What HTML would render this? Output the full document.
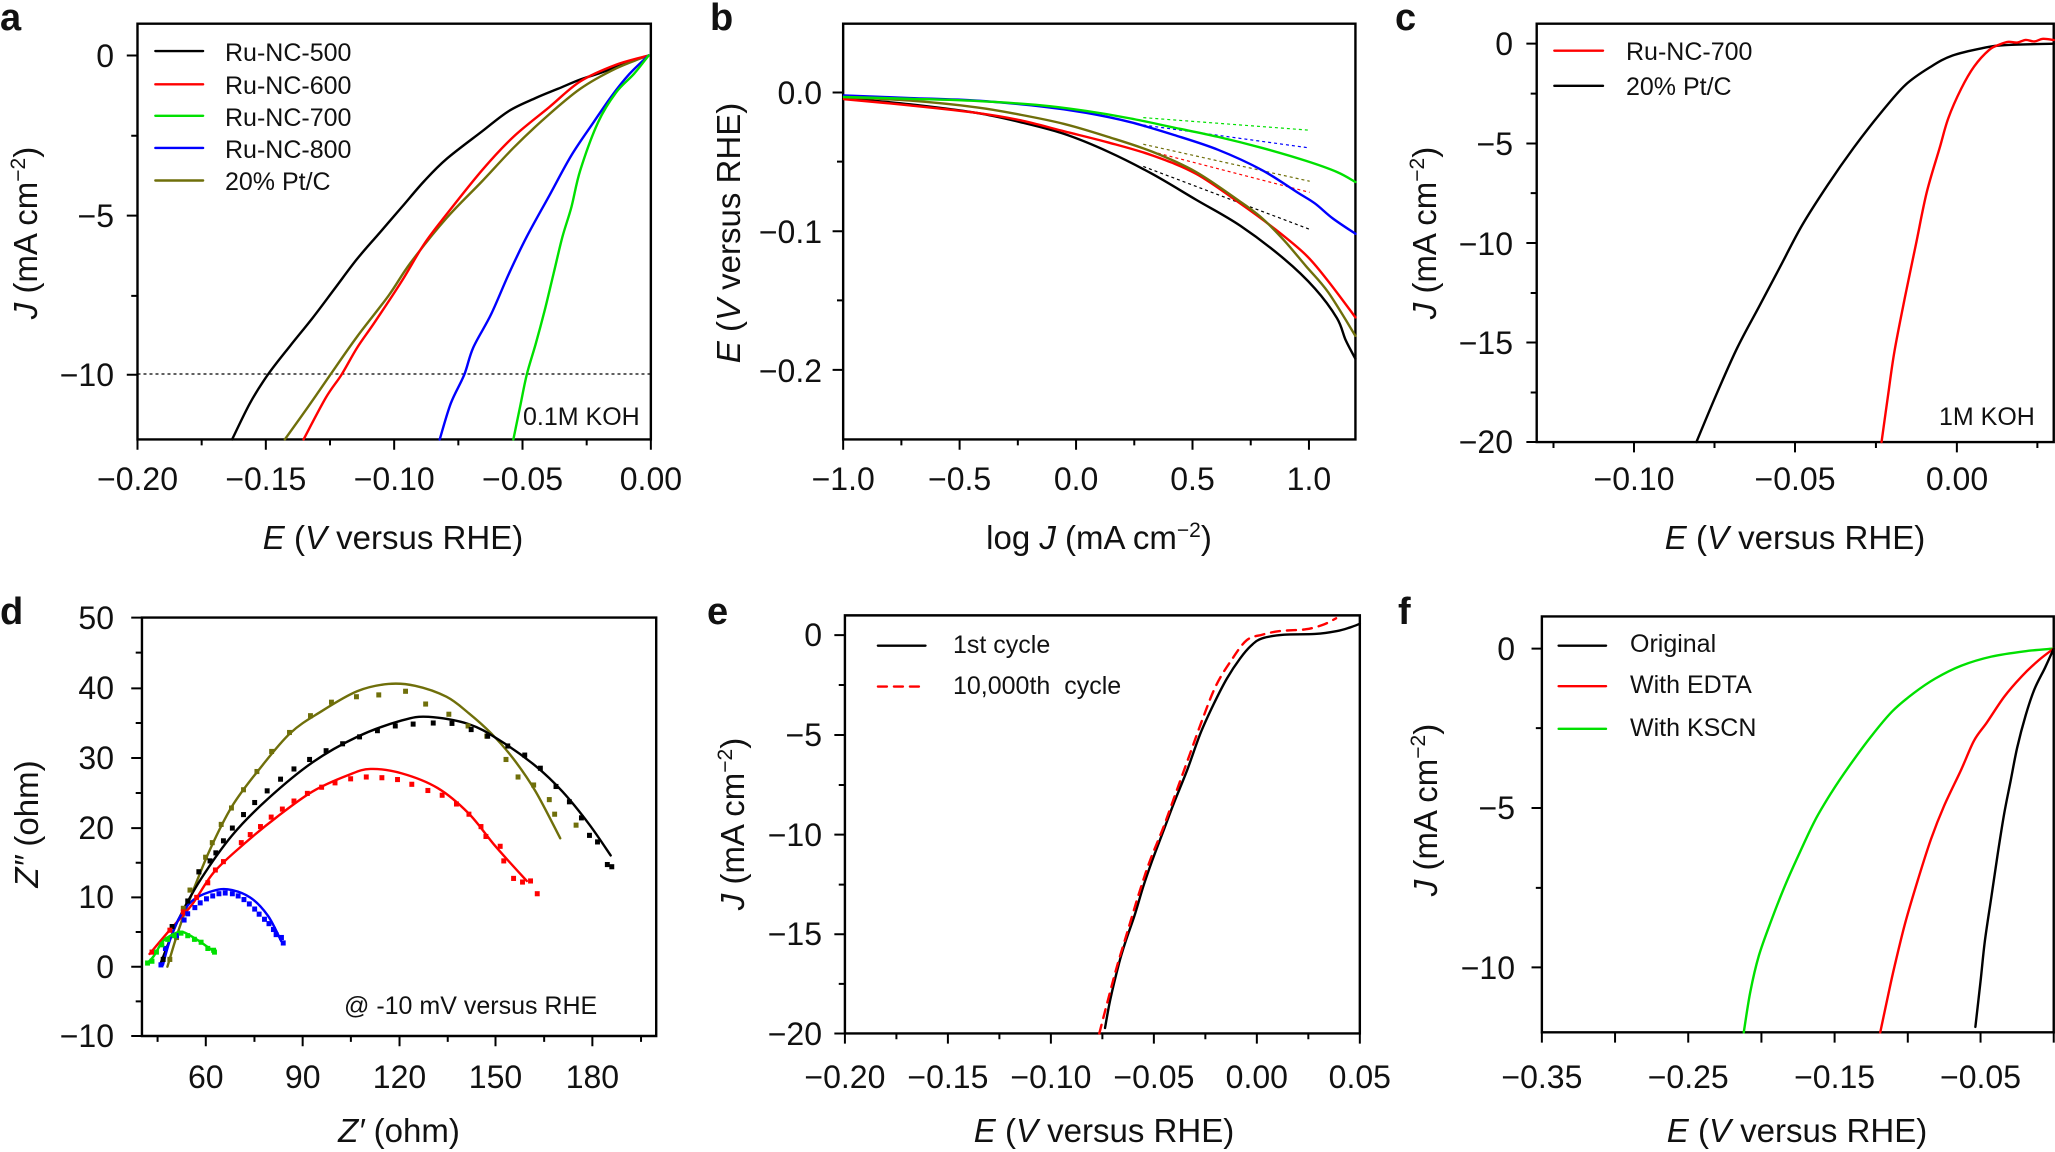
<!DOCTYPE html>
<html><head><meta charset="utf-8"><style>
html,body{margin:0;padding:0;background:#fff;}
svg{display:block;}
text{font-family:"Liberation Sans",Arial,sans-serif;fill:#111;}
.t{font-size:32px;}
.lg{font-size:25px;}
.L{font-size:38px;font-weight:bold;}
.ax{font-size:33px;}
.f *{vector-effect:non-scaling-stroke;}
.fr{fill:none;stroke:#000;stroke-width:2.4;}
.tk{stroke:#000;stroke-width:2;fill:none;}
.c{fill:none;stroke-width:2.4;stroke-linejoin:round;stroke-linecap:round;}
</style></head><body>
<svg width="2055" height="1152" viewBox="0 0 2055 1152" xmlns="http://www.w3.org/2000/svg">

<!-- ===== Panel a ===== -->
<g class="f" transform="translate(0,0) scale(0.4464,0.3699)">
<rect class="fr" x="308" y="64" width="1150" height="1124"/>
<path class="tk" d="M308,1188v28M451.75,1188v16M595.5,1188v28M739.25,1188v16M883,1188v28M1026.75,1188v16M1170.5,1188v28M1314.25,1188v16M1458,1188v28
M308,150h-24M308,367h-14M308,583h-24M308,800h-14M308,1013h-24"/>
<path d="M308,1011H1458" stroke="#000" stroke-width="1.2" stroke-dasharray="3,3" fill="none"/>
<polyline class="c" stroke="#000" points="1453,150 1400,170 1350,195 1300,215 1250,240 1200,265 1140,300 1080,355 1000,430 950,490 900,560 850,630 800,700 750,780 700,860 650,935 600,1013 560,1090 520,1188"/>
<polyline class="c" stroke="#6f6f0a" points="1453,150 1380,185 1300,240 1220,320 1150,400 1080,490 1000,590 920,710 870,800 800,910 740,1013 690,1100 638,1188"/>
<polyline class="c" stroke="#ff0000" points="1453,150 1380,175 1300,220 1230,290 1150,370 1080,460 1000,580 950,660 900,760 840,870 800,940 765,1013 730,1075 680,1188"/>
<polyline class="c" stroke="#0000ff" points="1453,150 1410,200 1370,260 1330,330 1280,420 1230,530 1180,640 1140,740 1100,850 1060,940 1040,1013 1010,1090 985,1188"/>
<polyline class="c" stroke="#00e000" points="1453,150 1420,200 1380,250 1340,330 1300,460 1280,560 1260,640 1240,740 1220,840 1200,930 1180,1013 1165,1100 1150,1188"/>
<path class="c" stroke="#000" d="M348,138H455"/>
<path class="c" stroke="#ff0000" d="M348,228H455"/>
<path class="c" stroke="#00e000" d="M348,313H455"/>
<path class="c" stroke="#0000ff" d="M348,400H455"/>
<path class="c" stroke="#6f6f0a" d="M348,488H455"/>
</g>
<text class="L" x="0" y="30">a</text>
<g class="t" text-anchor="middle">
<text x="137.5" y="490">−0.20</text><text x="265.8" y="490">−0.15</text><text x="394.2" y="490">−0.10</text><text x="522.5" y="490">−0.05</text><text x="650.9" y="490">0.00</text>
</g>
<g class="t" text-anchor="end">
<text x="114" y="67">0</text><text x="114" y="227">−5</text><text x="114" y="386">−10</text>
</g>
<g class="lg"><text x="225" y="61">Ru-NC-500</text><text x="225" y="94">Ru-NC-600</text><text x="225" y="126">Ru-NC-700</text><text x="225" y="158">Ru-NC-800</text><text x="225" y="190">20% Pt/C</text></g>
<text class="lg" x="523" y="425">0.1M KOH</text>
<text class="ax" text-anchor="middle" transform="translate(37,233) rotate(-90)"><tspan font-style="italic">J</tspan> (mA cm<tspan font-size="21" dy="-12">−2</tspan><tspan dy="12">)</tspan></text>
<text class="ax" x="393" y="549" text-anchor="middle"><tspan font-style="italic">E</tspan> (<tspan font-style="italic">V</tspan> versus RHE)</text>

<!-- ===== Panel b ===== -->
<g class="f" transform="translate(690,0) scale(0.4401,0.3699)">
<rect class="fr" x="348" y="64" width="1164" height="1124"/>
<path class="tk" d="M348,1188v28M480.3,1188v16M612.6,1188v28M744.9,1188v16M877.2,1188v28M1009.5,1188v16M1141.8,1188v28M1274.1,1188v16M1406.4,1188v28
M348,250h-24M348,437h-14M348,625h-24M348,812h-14M348,1000h-24"/>
<g fill="none" stroke-width="1.2" stroke-dasharray="3,3">
<path stroke="#00e000" d="M1030,318L1408,352"/>
<path stroke="#0000ff" d="M1030,338L1408,400"/>
<path stroke="#6f6f0a" d="M1030,390L1408,490"/>
<path stroke="#ff0000" d="M1050,410L1408,520"/>
<path stroke="#000" d="M1030,450L1408,620"/>
</g>
<polyline class="c" stroke="#000" points="350,265 500,282 650,305 750,330 850,362 950,410 1050,470 1150,540 1250,610 1350,700 1420,780 1470,860 1490,920 1512,970"/>
<polyline class="c" stroke="#ff0000" points="350,268 500,285 650,305 750,325 850,355 950,385 1050,420 1150,470 1250,550 1330,620 1400,690 1450,760 1512,858"/>
<polyline class="c" stroke="#6f6f0a" points="350,263 500,272 650,290 750,310 850,335 950,370 1050,410 1150,465 1250,545 1300,590 1350,650 1400,720 1450,790 1512,908"/>
<polyline class="c" stroke="#0000ff" points="350,258 500,265 650,272 800,288 900,305 1000,330 1100,365 1200,405 1300,460 1380,520 1420,550 1460,590 1512,632"/>
<polyline class="c" stroke="#00e000" points="350,262 500,267 650,273 800,285 900,300 1000,320 1100,345 1200,370 1300,400 1400,435 1470,465 1512,492"/>
</g>
<text class="L" x="710" y="30">b</text>
<g class="t" text-anchor="middle">
<text x="843.2" y="490">−1.0</text><text x="959.6" y="490">−0.5</text><text x="1076.1" y="490">0.0</text><text x="1192.5" y="490">0.5</text><text x="1308.9" y="490">1.0</text>
</g>
<g class="t" text-anchor="end">
<text x="822" y="104">0.0</text><text x="822" y="243">−0.1</text><text x="822" y="382">−0.2</text>
</g>
<text class="ax" text-anchor="middle" transform="translate(740,233) rotate(-90)"><tspan font-style="italic">E</tspan> (<tspan font-style="italic">V</tspan> versus RHE)</text>
<text class="ax" x="1099" y="549" text-anchor="middle">log <tspan font-style="italic">J</tspan> (mA cm<tspan font-size="21" dy="-12">−2</tspan><tspan dy="12">)</tspan></text>

<!-- ===== Panel c ===== -->
<g class="f" transform="translate(1380,0) scale(0.4305,0.3699)">
<rect class="fr" x="364" y="64" width="1201" height="1131"/>
<path class="tk" d="M403,1195v16M590,1195v28M777,1195v16M964,1195v28M1152,1195v16M1340,1195v28M1527,1195v16
M364,118h-24M364,253h-14M364,388h-24M364,522h-14M364,657h-24M364,792h-14M364,926h-24M364,1061h-14M364,1195h-24"/>
<polyline class="c" stroke="#000" points="1565,118 1450,122 1400,130 1330,150 1280,180 1220,230 1160,310 1100,400 1040,500 980,610 930,720 880,830 830,940 780,1070 735,1195"/>
<polyline class="c" stroke="#ff0000" points="1565,108 1540,105 1520,112 1500,108 1480,115 1460,113 1440,120 1415,135 1380,180 1350,240 1320,320 1300,400 1270,520 1245,660 1220,800 1195,950 1180,1070 1165,1195"/>
<path class="c" stroke="#ff0000" d="M405,137H518"/>
<path class="c" stroke="#000" d="M405,232H518"/>
</g>
<text class="L" x="1395" y="30">c</text>
<g class="t" text-anchor="middle">
<text x="1634" y="490">−0.10</text><text x="1795" y="490">−0.05</text><text x="1957" y="490">0.00</text>
</g>
<g class="t" text-anchor="end">
<text x="1513" y="55">0</text><text x="1513" y="155">−5</text><text x="1513" y="255">−10</text><text x="1513" y="354">−15</text><text x="1513" y="453">−20</text>
</g>
<g class="lg"><text x="1626" y="60">Ru-NC-700</text><text x="1626" y="95">20% Pt/C</text></g>
<text class="lg" x="1939" y="425">1M KOH</text>
<text class="ax" text-anchor="middle" transform="translate(1436,233) rotate(-90)"><tspan font-style="italic">J</tspan> (mA cm<tspan font-size="21" dy="-12">−2</tspan><tspan dy="12">)</tspan></text>
<text class="ax" x="1795" y="549" text-anchor="middle"><tspan font-style="italic">E</tspan> (<tspan font-style="italic">V</tspan> versus RHE)</text>

<!-- ===== Panel d ===== -->
<g class="f" transform="translate(0,580) scale(0.4464,0.3648)">
<rect class="fr" x="318" y="103" width="1152" height="1147"/>
<path class="tk" d="M353,1250v16M461,1250v28M570,1250v16M678,1250v28M786,1250v16M895,1250v28M1003,1250v16M1110,1250v28M1219,1250v16M1327,1250v28M1436,1250v16
M318,103h-24M318,199h-14M318,297h-24M318,392h-14M318,488h-24M318,584h-14M318,680h-24M318,775h-14M318,870h-24M318,965h-14M318,1060h-24M318,1155h-14M318,1250h-24"/>
<polyline class="c" stroke="#6f6f0a" points="375,1060 400,960 430,860 470,740 520,620 580,520 650,420 720,360 800,305 870,285 930,290 1000,320 1050,365 1100,420 1150,490 1200,580 1255,708"/>
<polyline class="c" stroke="#000" points="360,1050 400,930 450,820 520,700 600,600 700,500 800,430 900,385 960,375 1050,395 1120,440 1200,510 1260,580 1320,670 1368,755"/>
<polyline class="c" stroke="#ff0000" points="335,1025 380,960 430,890 480,800 550,720 620,650 700,580 780,535 830,518 900,530 980,570 1050,640 1110,730 1180,825"/>
<polyline class="c" stroke="#0000ff" points="365,1055 380,990 400,930 430,880 470,855 510,848 560,870 600,920 630,990"/>
<polyline class="c" stroke="#00e000" points="330,1050 345,1030 365,990 390,970 410,965 440,985 470,1010 480,1018"/>
<g fill="#6f6f0a">
<rect x="375" y="1033" width="11" height="14"/><rect x="390" y="973" width="11" height="14"/><rect x="405" y="893" width="11" height="14"/><rect x="420" y="843" width="11" height="14"/><rect x="440" y="793" width="11" height="14"/><rect x="455" y="753" width="11" height="14"/><rect x="470" y="713" width="11" height="14"/><rect x="490" y="663" width="11" height="14"/><rect x="513" y="618" width="11" height="14"/><rect x="540" y="568" width="11" height="14"/><rect x="570" y="518" width="11" height="14"/><rect x="603" y="463" width="11" height="14"/><rect x="643" y="411" width="11" height="14"/><rect x="690" y="365" width="11" height="14"/><rect x="737" y="328" width="11" height="14"/><rect x="793" y="313" width="11" height="14"/><rect x="843" y="308" width="11" height="14"/><rect x="903" y="298" width="11" height="14"/><rect x="948" y="333" width="11" height="14"/><rect x="1000" y="361" width="11" height="14"/><rect x="1043" y="393" width="11" height="14"/><rect x="1085" y="421" width="11" height="14"/><rect x="1128" y="485" width="11" height="14"/><rect x="1155" y="533" width="11" height="14"/><rect x="1190" y="555" width="11" height="14"/><rect x="1225" y="595" width="11" height="14"/><rect x="1237" y="635" width="11" height="14"/><rect x="1285" y="665" width="11" height="14"/>
</g>
<g fill="#000">
<rect x="360" y="1033" width="11" height="14"/><rect x="380" y="943" width="11" height="14"/><rect x="415" y="873" width="11" height="14"/><rect x="440" y="793" width="11" height="14"/><rect x="465" y="763" width="11" height="14"/><rect x="478" y="741" width="11" height="14"/><rect x="495" y="708" width="11" height="14"/><rect x="515" y="673" width="11" height="14"/><rect x="540" y="636" width="11" height="14"/><rect x="565" y="603" width="11" height="14"/><rect x="593" y="571" width="11" height="14"/><rect x="623" y="539" width="11" height="14"/><rect x="653" y="511" width="11" height="14"/><rect x="688" y="485" width="11" height="14"/><rect x="725" y="461" width="11" height="14"/><rect x="762" y="442" width="11" height="14"/><rect x="800" y="423" width="11" height="14"/><rect x="840" y="406" width="11" height="14"/><rect x="880" y="393" width="11" height="14"/><rect x="920" y="388" width="11" height="14"/><rect x="965" y="385" width="11" height="14"/><rect x="1007" y="386" width="11" height="14"/><rect x="1050" y="403" width="11" height="14"/><rect x="1087" y="421" width="11" height="14"/><rect x="1132" y="448" width="11" height="14"/><rect x="1170" y="473" width="11" height="14"/><rect x="1205" y="509" width="11" height="14"/><rect x="1240" y="559" width="11" height="14"/><rect x="1270" y="601" width="11" height="14"/><rect x="1297" y="645" width="11" height="14"/><rect x="1315" y="693" width="11" height="14"/><rect x="1333" y="711" width="11" height="14"/><rect x="1355" y="773" width="11" height="14"/><rect x="1365" y="779" width="11" height="14"/>
</g>
<g fill="#ff0000">
<rect x="335" y="1013" width="11" height="14"/><rect x="375" y="953" width="11" height="14"/><rect x="405" y="903" width="11" height="14"/><rect x="435" y="863" width="11" height="14"/><rect x="460" y="823" width="11" height="14"/><rect x="477" y="788" width="11" height="14"/><rect x="495" y="765" width="11" height="14"/><rect x="535" y="713" width="11" height="14"/><rect x="555" y="691" width="11" height="14"/><rect x="578" y="669" width="11" height="14"/><rect x="602" y="643" width="11" height="14"/><rect x="627" y="621" width="11" height="14"/><rect x="653" y="599" width="11" height="14"/><rect x="683" y="578" width="11" height="14"/><rect x="715" y="561" width="11" height="14"/><rect x="745" y="549" width="11" height="14"/><rect x="780" y="538" width="11" height="14"/><rect x="815" y="533" width="11" height="14"/><rect x="850" y="535" width="11" height="14"/><rect x="885" y="540" width="11" height="14"/><rect x="917" y="553" width="11" height="14"/><rect x="953" y="570" width="11" height="14"/><rect x="985" y="583" width="11" height="14"/><rect x="1017" y="607" width="11" height="14"/><rect x="1045" y="635" width="11" height="14"/><rect x="1072" y="669" width="11" height="14"/><rect x="1083" y="696" width="11" height="14"/><rect x="1115" y="723" width="11" height="14"/><rect x="1123" y="763" width="11" height="14"/><rect x="1145" y="811" width="11" height="14"/><rect x="1165" y="821" width="11" height="14"/><rect x="1183" y="818" width="11" height="14"/><rect x="1198" y="853" width="11" height="14"/>
</g>
<g fill="#0000ff">
<rect x="355" y="1048" width="11" height="14"/><rect x="365" y="1003" width="11" height="14"/><rect x="390" y="968" width="11" height="14"/><rect x="407" y="925" width="11" height="14"/><rect x="415" y="908" width="11" height="14"/><rect x="431" y="891" width="11" height="14"/><rect x="443" y="878" width="11" height="14"/><rect x="457" y="867" width="11" height="14"/><rect x="471" y="859" width="11" height="14"/><rect x="485" y="853" width="11" height="14"/><rect x="499" y="851" width="11" height="14"/><rect x="515" y="853" width="11" height="14"/><rect x="528" y="859" width="11" height="14"/><rect x="541" y="869" width="11" height="14"/><rect x="553" y="881" width="11" height="14"/><rect x="565" y="895" width="11" height="14"/><rect x="575" y="909" width="11" height="14"/><rect x="587" y="923" width="11" height="14"/><rect x="597" y="935" width="11" height="14"/><rect x="607" y="951" width="11" height="14"/><rect x="613" y="965" width="11" height="14"/><rect x="625" y="973" width="11" height="14"/><rect x="629" y="988" width="11" height="14"/>
</g>
<g fill="#00e000">
<rect x="325" y="1043" width="11" height="14"/><rect x="335" y="1038" width="11" height="14"/><rect x="345" y="1013" width="11" height="14"/><rect x="357" y="993" width="11" height="14"/><rect x="370" y="978" width="11" height="14"/><rect x="385" y="968" width="11" height="14"/><rect x="400" y="961" width="11" height="14"/><rect x="415" y="968" width="11" height="14"/><rect x="430" y="978" width="11" height="14"/><rect x="445" y="986" width="11" height="14"/><rect x="460" y="1003" width="11" height="14"/><rect x="473" y="1008" width="11" height="14"/><rect x="475" y="1013" width="11" height="14"/>
</g>
</g>
<text class="L" x="0" y="624">d</text>
<g class="t" text-anchor="middle">
<text x="205.8" y="1088">60</text><text x="302.7" y="1088">90</text><text x="399.5" y="1088">120</text><text x="495.5" y="1088">150</text><text x="592.4" y="1088">180</text>
</g>
<g class="t" text-anchor="end">
<text x="114" y="629">50</text><text x="114" y="699">40</text><text x="114" y="769">30</text><text x="114" y="839">20</text><text x="114" y="908">10</text><text x="114" y="978">0</text><text x="114" y="1047">−10</text>
</g>
<text class="lg" x="344" y="1014">@ -10 mV versus RHE</text>
<text class="ax" text-anchor="middle" transform="translate(38,824) rotate(-90)"><tspan font-style="italic">Z″</tspan> (ohm)</text>
<text class="ax" x="399" y="1142" text-anchor="middle"><tspan font-style="italic">Z′</tspan> (ohm)</text>

<!-- ===== Panel e ===== -->
<g class="f" transform="translate(690,580) scale(0.4401,0.3648)">
<rect class="fr" x="352" y="97" width="1170" height="1146"/>
<path class="tk" d="M352,1243v28M469,1243v16M586,1243v28M703,1243v16M820,1243v28M937,1243v16M1054,1243v28M1171,1243v16M1288,1243v28M1405,1243v16M1522,1243v28
M352,151h-24M352,288h-14M352,425h-24M352,562h-14M352,698h-24M352,835h-14M352,971h-24M352,1107h-14M352,1243h-24"/>
<polyline class="c" stroke="#000" points="943,1228 955,1150 975,1050 990,990 1010,920 1030,840 1050,770 1075,690 1100,610 1130,520 1160,420 1190,340 1220,270 1250,215 1275,180 1300,160 1350,150 1420,148 1470,140 1500,130 1522,120"/>
<polyline class="c" stroke="#ff0000" stroke-dasharray="9,7" stroke-linecap="butt" points="930,1243 950,1150 970,1060 995,960 1020,860 1045,770 1075,680 1105,580 1135,480 1165,380 1195,290 1230,220 1265,165 1300,150 1340,140 1400,135 1440,122 1468,105"/>
<path class="c" stroke="#000" d="M427,180H535"/>
<path class="c" stroke="#ff0000" stroke-dasharray="9,7" stroke-linecap="butt" d="M427,292H535"/>
</g>
<text class="L" x="707" y="624">e</text>
<g class="t" text-anchor="middle">
<text x="844.9" y="1088">−0.20</text><text x="947.9" y="1088">−0.15</text><text x="1050.9" y="1088">−0.10</text><text x="1153.9" y="1088">−0.05</text><text x="1256.8" y="1088">0.00</text><text x="1359.8" y="1088">0.05</text>
</g>
<g class="t" text-anchor="end">
<text x="822" y="646">0</text><text x="822" y="746">−5</text><text x="822" y="846">−10</text><text x="822" y="945">−15</text><text x="822" y="1045">−20</text>
</g>
<g class="lg"><text x="953" y="653">1st cycle</text><text x="953" y="694" xml:space="preserve">10,000th  cycle</text></g>
<text class="ax" text-anchor="middle" transform="translate(744,824) rotate(-90)"><tspan font-style="italic">J</tspan> (mA cm<tspan font-size="21" dy="-12">−2</tspan><tspan dy="12">)</tspan></text>
<text class="ax" x="1104" y="1142" text-anchor="middle"><tspan font-style="italic">E</tspan> (<tspan font-style="italic">V</tspan> versus RHE)</text>

<!-- ===== Panel f ===== -->
<g class="f" transform="translate(1380,580) scale(0.4305,0.3648)">
<rect class="fr" x="376" y="100" width="1189" height="1140"/>
<path class="tk" d="M376,1240v28M546,1240v28M716,1240v28M886,1240v28M1056,1240v28M1226,1240v28M1395,1240v28M1565,1240v28
M376,188h-24M376,406h-14M376,625h-24M376,844h-14M376,1062h-24"/>
<polyline class="c" stroke="#00e000" points="1565,188 1500,195 1420,210 1350,235 1290,270 1240,310 1190,360 1140,430 1090,510 1050,580 1010,660 970,760 940,840 910,930 880,1030 860,1130 845,1240"/>
<polyline class="c" stroke="#ff0000" points="1565,188 1530,220 1490,265 1450,320 1410,390 1380,440 1350,520 1310,620 1280,710 1250,820 1220,940 1195,1060 1180,1140 1162,1240"/>
<polyline class="c" stroke="#000" points="1565,188 1545,240 1520,300 1500,370 1480,460 1465,550 1450,640 1435,750 1420,870 1405,990 1395,1100 1383,1225"/>
<path class="c" stroke="#000" d="M415,180H525"/>
<path class="c" stroke="#ff0000" d="M415,291H525"/>
<path class="c" stroke="#00e000" d="M415,408H525"/>
</g>
<text class="L" x="1398" y="624">f</text>
<g class="t" text-anchor="middle">
<text x="1541.9" y="1088">−0.35</text><text x="1688.2" y="1088">−0.25</text><text x="1834.6" y="1088">−0.15</text><text x="1980.5" y="1088">−0.05</text>
</g>
<g class="t" text-anchor="end">
<text x="1515" y="660">0</text><text x="1515" y="819">−5</text><text x="1515" y="979">−10</text>
</g>
<g class="lg"><text x="1630" y="652">Original</text><text x="1630" y="693">With EDTA</text><text x="1630" y="736">With KSCN</text></g>
<text class="ax" text-anchor="middle" transform="translate(1437,810) rotate(-90)"><tspan font-style="italic">J</tspan> (mA cm<tspan font-size="21" dy="-12">−2</tspan><tspan dy="12">)</tspan></text>
<text class="ax" x="1797" y="1142" text-anchor="middle"><tspan font-style="italic">E</tspan> (<tspan font-style="italic">V</tspan> versus RHE)</text>
</svg>
<script>
(function(){
var NS="http://www.w3.org/2000/svg";
var pls=document.querySelectorAll("polyline.c");
for(var i=0;i<pls.length;i++){
 var pl=pls[i];
 var nums=pl.getAttribute("points").trim().split(/[\s,]+/).map(Number);
 var p=[];for(var k=0;k<nums.length;k+=2)p.push([nums[k],nums[k+1]]);
 var d="M"+p[0][0]+","+p[0][1];
 for(var k=0;k<p.length-1;k++){
  var p0=p[k>0?k-1:k],p1=p[k],p2=p[k+1],p3=p[k+2<p.length?k+2:k+1];
  var c1x=p1[0]+(p2[0]-p0[0])/6,c1y=p1[1]+(p2[1]-p0[1])/6;
  var c2x=p2[0]-(p3[0]-p1[0])/6,c2y=p2[1]-(p3[1]-p1[1])/6;
  d+="C"+c1x.toFixed(1)+","+c1y.toFixed(1)+" "+c2x.toFixed(1)+","+c2y.toFixed(1)+" "+p2[0]+","+p2[1];
 }
 var path=document.createElementNS(NS,"path");
 for(var a=0;a<pl.attributes.length;a++){var at=pl.attributes[a];if(at.name!=="points")path.setAttribute(at.name,at.value);}
 path.setAttribute("d",d);
 pl.parentNode.replaceChild(path,pl);
}
})();
</script>
</body></html>
